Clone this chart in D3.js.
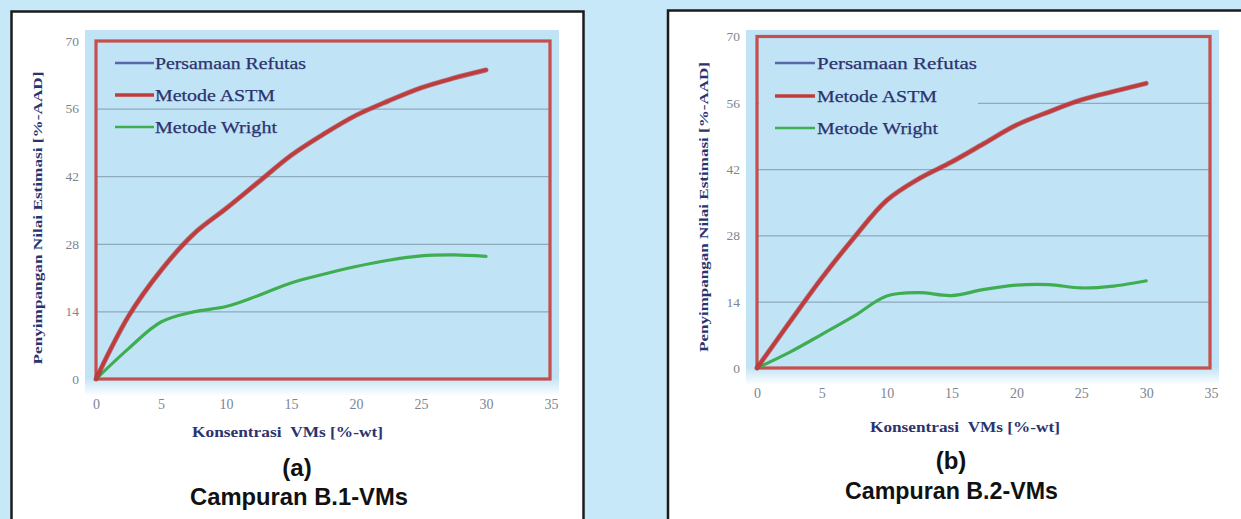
<!DOCTYPE html>
<html>
<head>
<meta charset="utf-8">
<script src="https://cdn.jsdelivr.net/npm/d3@7"></script>
<style>
  html, body { margin: 0; padding: 0; background: #c6e8f9; }
  svg { display: block; }
</style>
</head>
<body>
<svg id="chart" width="1241" height="519"></svg>
<script>
// ---------------- DATA ----------------
const xTicks = [0, 5, 10, 15, 20, 25, 30, 35];
const yTicks = [0, 14, 28, 42, 56, 70];
const seriesNames = ["Persamaan Refutas", "Metode ASTM", "Metode Wright"];

// Panel (a) Campuran B.1-VMs
const concA   = [0, 2.5, 5, 7.5, 10, 12.5, 15, 17.5, 20, 22.5, 25, 27.5, 30];
const astmA   = [0, 13, 22.5, 30, 35.3, 40.8, 46.3, 50.7, 54.6, 57.6, 60.3, 62.3, 64];
const wrightA = [0, 6.3, 11.8, 13.9, 15, 17.3, 19.9, 21.7, 23.3, 24.6, 25.5, 25.7, 25.4];

// Panel (b) Campuran B.2-VMs
const concB   = [0, 2.5, 5, 7.5, 10, 12.5, 15, 17.5, 20, 22.5, 25, 27.5, 30];
const astmB   = [0, 9.6, 19, 27.6, 35.4, 40, 43.5, 47.4, 51.3, 54.1, 56.6, 58.4, 60.1];
const wrightB = [0, 3.3, 7.1, 11, 15.2, 15.9, 15.3, 16.6, 17.5, 17.6, 16.9, 17.3, 18.4];

const xTitle = "Konsentrasi\u00A0\u00A0VMs [%-wt]";
const yTitle = "Penyimpangan Nilai Estimasi [%-AAD]";
const panelLabels = ["(a)", "(b)"];
const panelTitles = ["Campuran B.1-VMs", "Campuran B.2-VMs"];

// ---------------- STYLE ----------------
const colors = { refutas: "#5a66aa", astm: "#c23b3a", wright: "#3fae50" };
const seriesColors = [colors.refutas, colors.astm, colors.wright];
const navy = "#2b336e";
const tickGrey = "#7c8591";
const plotBgColor = "#c1e3f6";
const serif = "'Liberation Serif', 'DejaVu Serif', serif";
const sans = "'Liberation Sans', Arial, sans-serif";

const svg = d3.select("#chart");
const defs = svg.append("defs");
const grad = defs.append("linearGradient").attr("id", "bgfade")
  .attr("x1", 0).attr("y1", 0).attr("x2", 0).attr("y2", 1);
grad.append("stop").attr("offset", "0%").attr("stop-color", plotBgColor);
grad.append("stop").attr("offset", "95%").attr("stop-color", plotBgColor);
grad.append("stop").attr("offset", "100%").attr("stop-color", "#ffffff");

const panels = [
  {
    conc: concA, astm: astmA, wright: wrightA, label: panelLabels[0], title: panelTitles[0],
    box: { x: 11.5, y: 11.5, w: 572, h: 520 },
    bg: { x0: 85, x1: 559, y0: 30, y1: 396 },
    xr: [96, 551], yr: [379, 41],
    legend: { lx0: 115, lx1: 154, tx: 155, ys: [63, 95, 127], widths: [151, 120, 122], mask: null },
    yTitle: { x: 37, y: 218, len: 293 },
    xTitle: { x: 287.5, y: 431.5, len: 191 },
    cap1: { x: 297, y: 468 }, cap2: { x: 299, y: 497, len: 218 }
  },
  {
    conc: concB, astm: astmB, wright: wrightB, label: panelLabels[1], title: panelTitles[1],
    box: { x: 668, y: 10.5, w: 600, h: 520 },
    bg: { x0: 746, x1: 1219, y0: 30, y1: 385 },
    xr: [757, 1211], yr: [368, 36.5],
    legend: { lx0: 775, lx1: 815, tx: 817, ys: [63, 96, 128], widths: [160, 120, 121], mask: { x0: 759, x1: 978, y0: 46, y1: 145 } },
    yTitle: { x: 703, y: 207, len: 290 },
    xTitle: { x: 965, y: 427, len: 190 },
    cap1: { x: 951, y: 461 }, cap2: { x: 951.5, y: 491, len: 213 }
  }
];

panels.forEach(p => {
  const g = svg.append("g");

  g.append("rect")
    .attr("x", p.box.x).attr("y", p.box.y).attr("width", p.box.w).attr("height", p.box.h)
    .attr("fill", "#ffffff").attr("stroke", "#1b1b1b").attr("stroke-width", 2.5);

  g.append("rect")
    .attr("x", p.bg.x0).attr("y", p.bg.y0)
    .attr("width", p.bg.x1 - p.bg.x0).attr("height", p.bg.y1 - p.bg.y0)
    .attr("fill", "url(#bgfade)");

  const x = d3.scaleLinear().domain([0, 35]).range(p.xr);
  const y = d3.scaleLinear().domain([0, 70]).range(p.yr);
  const width = p.xr[1] - p.xr[0];

  const grid = g.append("g").attr("transform", `translate(${p.xr[0]},0)`)
    .call(d3.axisLeft(y).tickValues(yTicks.filter(v => v > 0 && v < 70)).tickSize(-width).tickFormat(""));
  grid.select(".domain").remove();
  grid.selectAll("line").attr("stroke", "#8eaabb").attr("stroke-width", 1.2);

  if (p.legend.mask) {
    g.append("rect")
      .attr("x", p.legend.mask.x0).attr("y", p.legend.mask.y0)
      .attr("width", p.legend.mask.x1 - p.legend.mask.x0)
      .attr("height", p.legend.mask.y1 - p.legend.mask.y0)
      .attr("fill", plotBgColor);
  }

  const ya = g.append("g").attr("transform", `translate(${p.xr[0]},0)`)
    .call(d3.axisLeft(y).tickValues(yTicks).tickSize(0).tickPadding(17));
  ya.select(".domain").remove();
  ya.selectAll("text").attr("fill", tickGrey).attr("font-family", serif).attr("font-size", 13.5);

  const xa = g.append("g").attr("transform", `translate(0,${p.yr[0]})`)
    .call(d3.axisBottom(x).tickValues(xTicks).tickSize(0).tickPadding(20));
  xa.select(".domain").remove();
  xa.selectAll("text").attr("fill", tickGrey).attr("font-family", serif).attr("font-size", 14);

  g.append("rect")
    .attr("x", p.xr[0]).attr("y", p.yr[1])
    .attr("width", x(35) - x(0) - 1).attr("height", y(0) - y(70))
    .attr("fill", "none").attr("stroke", "#c44f4c").attr("stroke-width", 3.2);

  const line = d3.line().x(d => x(d[0])).y(d => y(d[1])).curve(d3.curveCatmullRom.alpha(0.5));
  const wrightPts = p.conc.map((c, i) => [c, p.wright[i]]);
  const astmPts = p.conc.map((c, i) => [c, p.astm[i]]);
  g.append("path").datum(wrightPts).attr("d", line)
    .attr("fill", "none").attr("stroke", colors.wright).attr("stroke-width", 3.2).attr("stroke-linecap", "round");
  g.append("path").datum(astmPts).attr("d", line)
    .attr("fill", "none").attr("stroke", "#9a2c36").attr("stroke-width", 5).attr("stroke-linecap", "round").attr("opacity", 0.6);
  g.append("path").datum(astmPts).attr("d", line)
    .attr("fill", "none").attr("stroke", colors.astm).attr("stroke-width", 3.4).attr("stroke-linecap", "round");

  const lg = g.append("g");
  seriesNames.forEach((name, i) => {
    const yy = p.legend.ys[i];
    lg.append("line")
      .attr("x1", p.legend.lx0).attr("x2", p.legend.lx1).attr("y1", yy).attr("y2", yy)
      .attr("stroke", seriesColors[i]).attr("stroke-width", i === 1 ? 3.5 : 2.6);
    lg.append("text")
      .attr("x", p.legend.tx).attr("y", yy).attr("dy", "0.35em")
      .attr("font-family", serif).attr("font-size", 16.5).attr("fill", navy)
      .attr("stroke", navy).attr("stroke-width", 0.25)
      .attr("textLength", p.legend.widths[i]).attr("lengthAdjust", "spacingAndGlyphs")
      .text(name);
  });

  g.append("text")
    .attr("transform", `translate(${p.yTitle.x},${p.yTitle.y}) rotate(-90)`)
    .attr("text-anchor", "middle").attr("dy", "0.35em")
    .attr("font-family", serif).attr("font-weight", "bold").attr("font-size", 13).attr("fill", navy)
    .attr("textLength", p.yTitle.len).attr("lengthAdjust", "spacingAndGlyphs")
    .text(yTitle);

  g.append("text")
    .attr("x", p.xTitle.x).attr("y", p.xTitle.y).attr("dy", "0.35em")
    .attr("text-anchor", "middle")
    .attr("font-family", serif).attr("font-weight", "bold").attr("font-size", 14.5).attr("fill", navy)
    .attr("textLength", p.xTitle.len).attr("lengthAdjust", "spacingAndGlyphs")
    .text(xTitle);

  g.append("text")
    .attr("x", p.cap1.x).attr("y", p.cap1.y).attr("dy", "0.35em")
    .attr("text-anchor", "middle")
    .attr("font-family", sans).attr("font-weight", "bold").attr("font-size", 24).attr("fill", "#111")
    .text(p.label);
  g.append("text")
    .attr("x", p.cap2.x).attr("y", p.cap2.y).attr("dy", "0.35em")
    .attr("text-anchor", "middle")
    .attr("font-family", sans).attr("font-weight", "bold").attr("font-size", 24).attr("fill", "#111")
    .attr("textLength", p.cap2.len).attr("lengthAdjust", "spacingAndGlyphs")
    .text(p.title);
});
</script>
</body>
</html>
